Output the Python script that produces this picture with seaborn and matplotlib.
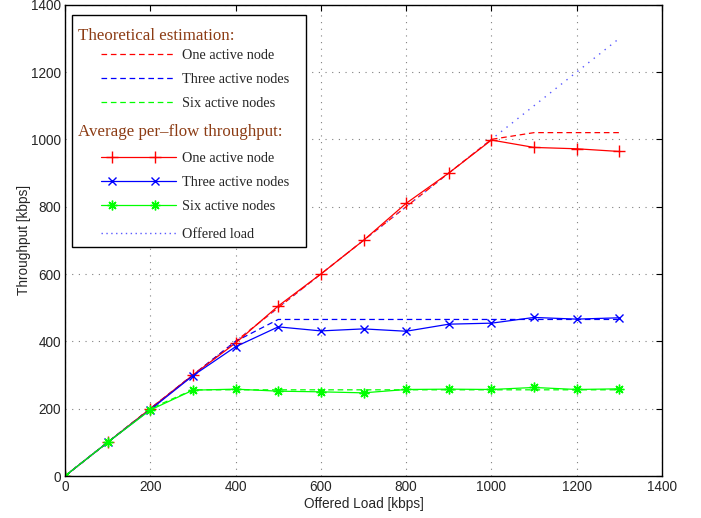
import numpy as np
import pandas as pd
import matplotlib
matplotlib.use("Agg")
import matplotlib.pyplot as plt
import seaborn as sns
from matplotlib.lines import Line2D
from matplotlib.legend_handler import HandlerLine2D

# ---- data ----
offered_load = [0, 100, 200, 300, 400, 500, 600, 700, 800, 900, 1000, 1100, 1200, 1300]
theo_one = [0, 100, 200, 300, 400, 500, 600, 700, 800, 900, 1000, 1020, 1020, 1020]
theo_three = [0, 100, 200, 300, 400, 465, 465, 465, 465, 465, 465, 465, 465, 465]
theo_six = [0, 100, 200, 256, 256, 256, 256, 256, 256, 256, 256, 256, 256, 256]
avg_one = [0, 100, 200, 300, 395, 505, 600, 700, 810, 900, 998, 976, 972, 964]
avg_three = [0, 100, 197, 298, 384, 443, 431, 437, 430, 451, 454, 471, 466, 470]
avg_six = [0, 100, 196, 255, 258, 252, 250, 247, 257, 258, 257, 263, 257, 259]
offered = [0, 100, 200, 300, 400, 500, 600, 700, 800, 900, 1000, 1100, 1200, 1300]

x_ticks = [0, 200, 400, 600, 800, 1000, 1200, 1400]
y_ticks = [0, 200, 400, 600, 800, 1000, 1200, 1400]

header_theo = "Theoretical estimation:"
header_avg = "Average per\u2013flow throughput:"
labels = ["One active node", "Three active nodes", "Six active nodes"]
label_offered = "Offered load"

sns.set_style("white")
plt.rcParams["font.family"] = ["Liberation Sans", "DejaVu Sans"]

fig = plt.figure(figsize=(7.01, 5.18), dpi=100)
ax = fig.add_axes([65 / 701, 42 / 518, 597 / 701, 471.3 / 518])

RED, BLUE, GREEN = (1, 0, 0), (0, 0, 1), (0, 1, 0)
OFF = (0.35, 0.35, 1.0)
dash = (0, (4.5, 3))
lw = 0.9
ASTER = (8, 2, 0)

for ys, c in [(theo_one, RED), (theo_three, BLUE), (theo_six, GREEN)]:
    sns.lineplot(x=offered_load, y=ys, ax=ax, color=c, linestyle=dash, lw=lw,
                 legend=False)

sns.lineplot(x=offered_load, y=offered, ax=ax, color=OFF, linestyle=(0, (1, 4)),
             lw=1.0, legend=False)

marker_specs = [(RED, "+", 8), (BLUE, "x", 6), (GREEN, ASTER, 7)]
for ys, (c, m, ms) in zip([avg_one, avg_three, avg_six], marker_specs):
    sns.lineplot(x=offered_load, y=ys, ax=ax, color=c, lw=lw, marker=m,
                 markersize=ms, markeredgecolor=c, markerfacecolor=c,
                 markeredgewidth=1.0, legend=False)

ax.set_xlim(0, 1400)
ax.set_ylim(0, 1400)
ax.set_xticks(x_ticks)
ax.set_yticks(y_ticks)
ax.set_xlabel("Offered Load [kbps]", fontsize=9.8, labelpad=1.5)
ax.set_ylabel("Throughput [kbps]", fontsize=9.8, labelpad=0)
ax.tick_params(direction="in", length=4, width=0.8, labelsize=9.8, top=True,
               right=True, color="black")
ax.tick_params(axis="x", pad=3.2)
ax.tick_params(axis="y", pad=3)
ax.grid(True, linestyle=(0, (1, 5)), color="#808080", lw=0.8)
for s in ax.spines.values():
    s.set_visible(True)
    s.set_color("black")
    s.set_linewidth(1.0)


class IndentHandler(HandlerLine2D):
    def create_artists(self, legend, orig_handle, xdescent, ydescent, width,
                       height, fontsize, trans):
        x0 = -xdescent
        y = height / 2 - ydescent
        line = Line2D([x0, x0 + width], [y, y])
        self.update_prop(line, orig_handle, legend)
        line.set_marker("None")
        mk = Line2D([x0 + 0.14 * width, x0 + 0.72 * width], [y, y])
        self.update_prop(mk, orig_handle, legend)
        mk.set_linestyle("None")
        line.set_transform(trans)
        mk.set_transform(trans)
        return [line, mk]


blank = Line2D([], [], color="none")
h_theo = [Line2D([], [], color=c, linestyle=dash, lw=lw) for c in (RED, BLUE, GREEN)]
h_avg = [Line2D([], [], color=c, lw=lw, marker=m, markersize=ms, markeredgecolor=c,
                markerfacecolor=c, markeredgewidth=1.0)
         for c, m, ms in marker_specs]
h_off = Line2D([], [], color=OFF, linestyle=(0, (1, 2.5)), lw=1.0)

handles = [blank] + h_theo + [blank] + h_avg + [h_off]
texts = [header_theo] + labels + [header_avg] + labels + [label_offered]

fs = 10.3
top = (476 - 15) / 471.3
hm = {h: IndentHandler(xpad=1.6) for h in h_theo + h_avg + [h_off]}
leg = ax.legend(handles, texts, loc="upper left", mode="expand",
                bbox_to_anchor=(7 / 597, 0.3, 234 / 597, top - 0.3),
                borderaxespad=0,
                prop={"family": ["Liberation Serif", "DejaVu Serif"], "size": fs},
                handlelength=6.8, handletextpad=0.42, borderpad=0.45,
                labelspacing=0.78, fancybox=False, framealpha=1,
                edgecolor="black", handler_map=hm)
leg.get_frame().set_linewidth(1.0)

HEADER = "#8c3c14"
for i in (0, 4):
    t = leg.get_texts()[i]
    t.set_color(HEADER)
    t.set_fontsize(12.2)
# move the first header a bit lower inside its row (drawing only)
leg.get_texts()[0].set_position((0, -7))

rows = leg._legend_handle_box.get_children()[0].get_children()
for i in (0, 4):
    hp = rows[i]
    hp.get_children()[0].width = 0
    hp.sep = 0
# extra space above the second header and the "Offered load" row
rows[4].get_children()[0].height += 3.8
rows[8].get_children()[0].height += 2.6

fig.savefig("out.png", dpi=100)
